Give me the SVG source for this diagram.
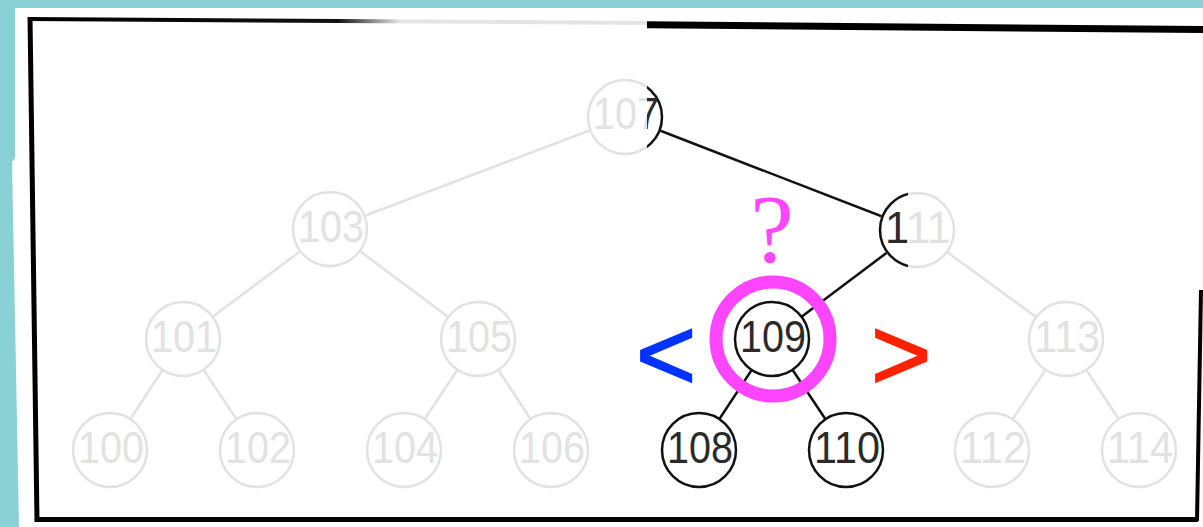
<svg xmlns="http://www.w3.org/2000/svg" width="1203" height="527" viewBox="0 0 1203 527">
<defs>
<style>
.bg{fill:#8ad1d5}
.paper{fill:#ffffff}
.f circle{fill:#fff;stroke:#e2e2e2;stroke-width:2.5}
.f text{fill:#e2e2e2}
.k circle{fill:#fff;stroke:#111;stroke-width:2.5}
.k text{fill:#2a2a2a}
text.n{font-family:'Liberation Sans',Arial,sans-serif;font-size:45px;text-anchor:middle}
.ef{stroke:#e2e2e2;stroke-width:2.5;fill:none}
.ek{stroke:#111;stroke-width:2.5;fill:none}
.frame{stroke:#000;fill:none}
</style>
<clipPath id="cR"><rect x="647" y="0" width="556" height="527"/></clipPath>
<clipPath id="cL"><rect x="0" y="0" width="908" height="527"/></clipPath>
<linearGradient id="tg" gradientUnits="userSpaceOnUse" x1="28" y1="0" x2="647" y2="0">
<stop offset="0" stop-color="#000"/>
<stop offset="0.5" stop-color="#111"/>
<stop offset="0.6" stop-color="#e4e4e4"/>
<stop offset="1" stop-color="#e4e4e4"/>
</linearGradient>
</defs>
<rect class="bg" x="0" y="0" width="1203" height="527"/>
<polygon class="paper" points="15,8 1203,8 1203,527 19,527 12,162 15,158"/>
<g id="frame">
<line class="frame" x1="28" y1="19" x2="647" y2="23" style="stroke:url(#tg)" stroke-width="4"/>
<line class="frame" x1="647" y1="24.8" x2="1203" y2="29.5" stroke-width="7"/>
<line class="frame" x1="30" y1="17" x2="37" y2="522" stroke-width="5"/>
<line class="frame" x1="35" y1="519.5" x2="1198" y2="519.5" stroke-width="5"/>
<line class="frame" x1="1201" y1="290" x2="1197" y2="521" stroke-width="4"/>
</g>
<g id="connectors">
<line class="ef" x1="625" y1="117" x2="330" y2="229"/>
<line class="ef" x1="330" y1="229" x2="183" y2="339"/>
<line class="ef" x1="330" y1="229" x2="478" y2="339"/>
<line class="ef" x1="183" y1="339" x2="110" y2="450"/>
<line class="ef" x1="183" y1="339" x2="257" y2="450"/>
<line class="ef" x1="478" y1="339" x2="404" y2="450"/>
<line class="ef" x1="478" y1="339" x2="551" y2="450"/>
<line class="ef" x1="917" y1="230" x2="1066" y2="339"/>
<line class="ef" x1="1066" y1="339" x2="992" y2="450"/>
<line class="ef" x1="1066" y1="339" x2="1139" y2="450"/>
<line class="ek" x1="625" y1="117" x2="917" y2="230"/>
<line class="ek" x1="917" y1="230" x2="772" y2="339"/>
<line class="ek" x1="772" y1="339" x2="699" y2="450"/>
<line class="ek" x1="772" y1="339" x2="846" y2="450"/>
</g>
<g id="n107">
<g class="f"><circle cx="625" cy="117" r="37"/><text class="n" x="626" y="129" textLength="66" lengthAdjust="spacingAndGlyphs">107</text></g>
<g class="k" clip-path="url(#cR)"><circle cx="625" cy="117" r="37"/><text class="n" x="626" y="129" textLength="66" lengthAdjust="spacingAndGlyphs">107</text></g>
</g>
<g id="n103" class="f"><circle cx="330" cy="229" r="37"/><text class="n" x="331" y="242" textLength="66" lengthAdjust="spacingAndGlyphs">103</text></g>
<g id="n111">
<g class="f"><circle cx="917" cy="230" r="37"/><text class="n" x="918" y="243" textLength="66" lengthAdjust="spacingAndGlyphs">111</text></g>
<g class="k" clip-path="url(#cL)"><circle cx="917" cy="230" r="37"/><text class="n" x="918" y="243" textLength="66" lengthAdjust="spacingAndGlyphs">111</text></g>
</g>
<g id="n101" class="f"><circle cx="183" cy="339" r="37"/><text class="n" x="184" y="352" textLength="66" lengthAdjust="spacingAndGlyphs">101</text></g>
<g id="n105" class="f"><circle cx="478" cy="339" r="37"/><text class="n" x="479" y="352" textLength="66" lengthAdjust="spacingAndGlyphs">105</text></g>
<g id="n109" class="k"><circle cx="772" cy="339" r="37"/><text class="n" x="773" y="352" textLength="66" lengthAdjust="spacingAndGlyphs">109</text></g>
<g id="n113" class="f"><circle cx="1066" cy="339" r="37"/><text class="n" x="1067" y="352" textLength="66" lengthAdjust="spacingAndGlyphs">113</text></g>
<g id="n100" class="f"><circle cx="110" cy="450" r="37"/><text class="n" x="111" y="463" textLength="66" lengthAdjust="spacingAndGlyphs">100</text></g>
<g id="n102" class="f"><circle cx="257" cy="450" r="37"/><text class="n" x="258" y="463" textLength="66" lengthAdjust="spacingAndGlyphs">102</text></g>
<g id="n104" class="f"><circle cx="404" cy="450" r="37"/><text class="n" x="405" y="463" textLength="66" lengthAdjust="spacingAndGlyphs">104</text></g>
<g id="n106" class="f"><circle cx="551" cy="450" r="37"/><text class="n" x="552" y="463" textLength="66" lengthAdjust="spacingAndGlyphs">106</text></g>
<g id="n108" class="k"><circle cx="699" cy="450" r="37"/><text class="n" x="700" y="463" textLength="66" lengthAdjust="spacingAndGlyphs">108</text></g>
<g id="n110" class="k"><circle cx="846" cy="450" r="37"/><text class="n" x="847" y="463" textLength="66" lengthAdjust="spacingAndGlyphs">110</text></g>
<g id="n112" class="f"><circle cx="992" cy="450" r="37"/><text class="n" x="993" y="463" textLength="66" lengthAdjust="spacingAndGlyphs">112</text></g>
<g id="n114" class="f"><circle cx="1139" cy="450" r="37"/><text class="n" x="1140" y="463" textLength="66" lengthAdjust="spacingAndGlyphs">114</text></g>
<g id="highlight">
<circle cx="773" cy="339" r="57" fill="none" stroke="#ff45ff" stroke-width="13"/>
<text x="772" y="262" font-family="'Liberation Serif','Times New Roman',serif" font-size="98" fill="#ff45ff" text-anchor="middle">?</text>
<text x="666" y="390" font-family="'Liberation Sans',Arial,sans-serif" font-size="104" fill="#0033ff" stroke="#0033ff" stroke-width="1.5" text-anchor="middle">&lt;</text>
<text x="901" y="390" font-family="'Liberation Sans',Arial,sans-serif" font-size="104" fill="#ff2200" stroke="#ff2200" stroke-width="1.5" text-anchor="middle">&gt;</text>
</g>
</svg>
